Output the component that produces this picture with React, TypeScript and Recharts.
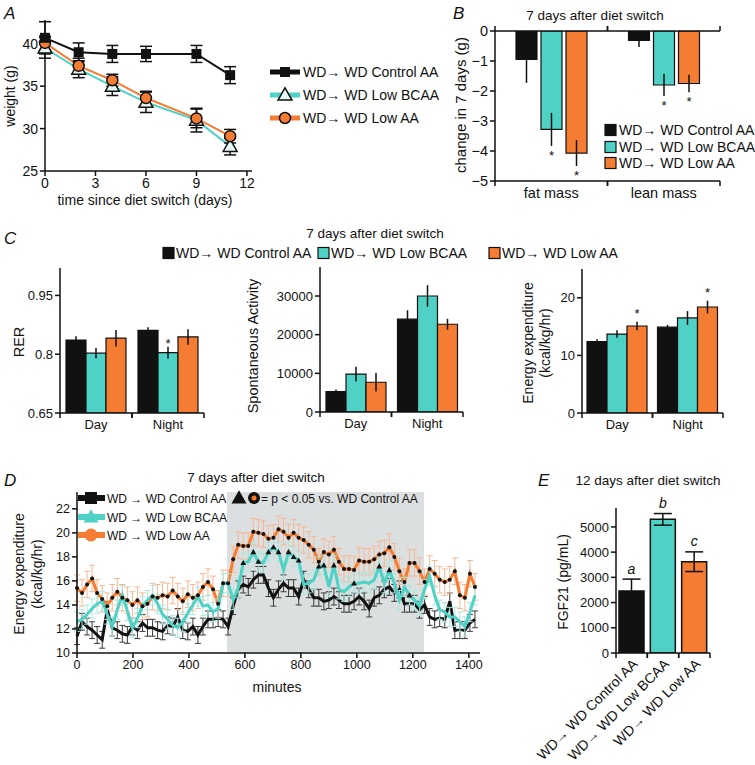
import React from "react";
import {
  Bar,
  BarChart,
  Cell,
  ErrorBar,
  LabelList,
  Line,
  LineChart,
  ReferenceArea,
  XAxis,
  YAxis,
} from "recharts";

const FONT = '"Liberation Sans", Arial, Helvetica, sans-serif';
const INK = "#111111";
const CTRL = "#111111";
const BCAA = "#4fd1c5";
const LOWAA = "#f47c33";

const groupNames = ["WD\u2192 WD Control AA", "WD\u2192 WD Low BCAA", "WD\u2192 WD Low AA"];
const groupNamesSpaced = ["WD \u2192 WD Control AA", "WD \u2192 WD Low BCAA", "WD \u2192 WD Low AA"];
const groupColors = [CTRL, BCAA, LOWAA];

// A: body weight
const weightDays = [0, 2, 4, 6, 9, 11];
const weightControl = [40.7, 39.0, 38.8, 38.8, 38.8, 36.3];
const weightLowBcaa = [39.5, 37.0, 35.0, 33.1, 31.0, 27.9];
const weightLowAA = [40.1, 37.4, 35.7, 33.6, 31.2, 29.1];
const weightControlErr = [1.9, 1.1, 1.0, 0.9, 1.0, 1.0];
const weightLowBcaaErr = [1.2, 1.0, 1.1, 1.2, 1.4, 1.0];
const weightLowAAErr = [0.8, 0.9, 0.7, 0.8, 1.1, 0.8];

// B: body composition change
const compCategories = ["fat mass", "lean mass"];
const compControl = [-0.95, -0.31];
const compLowBcaa = [-3.28, -1.8];
const compLowAA = [-4.07, -1.75];
const compControlErr = [0.78, 0.22];
const compLowBcaaErr = [0.55, 0.37];
const compLowAAErr = [0.43, 0.29];
const compLowBcaaSig = ["*", "*"];
const compLowAASig = ["*", "*"];

// C: metabolic chambers
const dayNight = ["Day", "Night"];
const rerControl = [0.836, 0.861];
const rerLowBcaa = [0.803, 0.804];
const rerLowAA = [0.841, 0.844];
const rerControlErr = [0.01, 0.008];
const rerLowBcaaErr = [0.013, 0.015];
const rerLowAAErr = [0.021, 0.02];
const rerLowBcaaSig = ["", "*"];

const actControl = [5300, 24000];
const actLowBcaa = [9800, 30000];
const actLowAA = [7700, 22700];
const actControlErr = [500, 2300];
const actLowBcaaErr = [1900, 2800];
const actLowAAErr = [2400, 1400];

const eeControl = [12.4, 14.9];
const eeLowBcaa = [13.7, 16.5];
const eeLowAA = [15.1, 18.4];
const eeControlErr = [0.4, 0.4];
const eeLowBcaaErr = [0.65, 1.2];
const eeLowAAErr = [0.75, 1.1];
const eeLowAASig = ["*", "*"];

// D: energy expenditure time course
const minutes = [
  0, 18, 36, 54, 72, 90, 108, 126, 144, 162, 180, 198, 216, 234, 252, 270, 288, 306, 324, 342,
  360, 378, 396, 414, 432, 450, 468, 486, 504, 522, 540, 558, 576, 594, 612, 630, 648, 666, 684, 702,
  720, 738, 756, 774, 792, 810, 828, 846, 864, 882, 900, 918, 936, 954, 972, 990, 1008, 1026, 1044, 1062,
  1080, 1098, 1116, 1134, 1152, 1170, 1188, 1206, 1224, 1242, 1260, 1278, 1296, 1314, 1332, 1350, 1368, 1386, 1404, 1422,
];
const traceControl = [
  11.4, 12.6, 12.2, 11.9, 11.5, 11.1, 13.6, 12.1, 11.9, 11.6, 11.5, 12.2, 11.9, 12.5, 12.1, 12.1, 11.9, 11.8, 12.3, 12.2,
  13.0, 11.9, 11.8, 12.2, 11.5, 12.2, 12.8, 12.8, 12.9, 12.8, 12.2, 13.9, 15.3, 15.7, 15.5, 16.1, 16.5, 16.5, 15.4, 14.6,
  15.3, 15.8, 15.4, 15.4, 14.7, 16.1, 15.3, 14.6, 14.6, 14.3, 14.4, 14.7, 14.4, 14.1, 14.1, 14.3, 14.7, 14.3, 13.7, 14.6,
  14.8, 15.3, 15.5, 15.0, 15.3, 14.1, 14.1, 14.1, 13.6, 14.0, 13.0, 12.8, 12.9, 12.8, 14.3, 11.9, 11.9, 11.9, 12.5, 12.8,
];
const traceLowBcaa = [
  12.6, 12.8, 13.2, 13.7, 14.1, 14.3, 13.2, 12.2, 13.6, 14.8, 13.5, 12.1, 12.9, 13.9, 14.4, 14.8, 14.1, 13.2, 12.8, 12.3,
  12.1, 12.6, 13.3, 14.0, 14.7, 13.9, 14.0, 13.4, 13.7, 15.8, 15.8, 14.4, 15.4, 17.5, 17.6, 18.4, 17.6, 17.5, 18.4, 18.8,
  18.4, 16.9, 18.4, 18.0, 17.7, 15.7, 15.8, 16.1, 17.2, 17.3, 15.5, 17.3, 15.3, 15.1, 15.5, 15.8, 15.8, 15.9, 15.8, 16.1,
  17.2, 15.8, 16.9, 15.8, 14.4, 15.5, 14.8, 14.4, 13.9, 15.3, 16.4, 14.8, 13.6, 13.4, 13.0, 13.0, 12.6, 12.2, 13.4, 14.8,
];
const traceLowAA = [
  15.4, 15.0, 15.7, 16.2, 15.0, 14.5, 13.9, 14.6, 15.1, 14.6, 14.4, 14.0, 14.4, 13.9, 14.1, 14.7, 14.6, 14.8, 14.7, 15.2,
  14.7, 14.3, 14.9, 14.6, 14.8, 15.5, 15.9, 15.3, 14.1, 15.8, 15.8, 17.8, 19.0, 18.9, 18.9, 20.1, 20.0, 19.9, 19.5, 19.6,
  20.3, 20.1, 19.6, 20.0, 19.6, 19.4, 19.0, 18.6, 17.6, 18.4, 18.2, 18.6, 17.6, 17.0, 17.0, 16.9, 17.7, 17.6, 17.6, 17.8,
  18.2, 18.3, 18.8, 18.0, 16.8, 15.9, 17.5, 17.5, 16.8, 15.9, 17.0, 16.6, 16.1, 15.9, 16.1, 16.8, 14.8, 14.6, 16.6, 15.5,
];
const traceControlErr = 0.7;
const traceLowBcaaErr = 0.8;
const traceLowAAErr = 1.1;
const lowBcaaSigIdx = [33, 35, 36, 38, 39, 40, 42, 43, 44, 48, 49, 51, 55, 60, 62, 66];
const darkStart = 536;
const darkEnd = 1240;
const minuteTicks = [0, 200, 400, 600, 800, 1000, 1200, 1400];

// E: FGF21
const fgfValues = [2460, 5300, 3620];
const fgfErr = [470, 230, 390];
const fgfLetters = ["a", "b", "c"];

const weightRows = weightDays.map((day, i) => ({
  day,
  control: weightControl[i],
  bcaa: weightLowBcaa[i],
  lowAA: weightLowAA[i],
  controlErr: weightControlErr[i],
  bcaaErr: weightLowBcaaErr[i],
  lowAAErr: weightLowAAErr[i],
}));

const groupRows = (
  names: string[],
  c: number[], b: number[], a: number[],
  ce: number[], be: number[], ae: number[],
) =>
  names.map((name, i) => ({
    name,
    control: c[i],
    bcaa: b[i],
    lowAA: a[i],
    controlErr: ce[i],
    bcaaErr: be[i],
    lowAAErr: ae[i],
  }));

const compRows = groupRows(compCategories, compControl, compLowBcaa, compLowAA, compControlErr, compLowBcaaErr, compLowAAErr);
const rerRows = groupRows(dayNight, rerControl, rerLowBcaa, rerLowAA, rerControlErr, rerLowBcaaErr, rerLowAAErr);
const actRows = groupRows(dayNight, actControl, actLowBcaa, actLowAA, actControlErr, actLowBcaaErr, actLowAAErr);
const eeRows = groupRows(dayNight, eeControl, eeLowBcaa, eeLowAA, eeControlErr, eeLowBcaaErr, eeLowAAErr);

const traceRows = minutes.map((minute, i) => ({
  minute,
  control: traceControl[i],
  bcaa: traceLowBcaa[i],
  lowAA: traceLowAA[i],
  controlErr: traceControlErr,
  bcaaErr: traceLowBcaaErr,
  lowAAErr: traceLowAAErr,
}));

const fgfRows = groupNames.map((name, i) => ({ name, value: fgfValues[i], err: fgfErr[i] }));

const tri = (cx: number, cy: number, s: number) =>
  `M${cx},${cy - s * 0.6} L${cx + s * 0.58},${cy + s * 0.42} L${cx - s * 0.58},${cy + s * 0.42} Z`;

const minus = (v: number) => (v < 0 ? `\u2212${Math.abs(v)}` : `${v}`);

// category axis tick: label at band centre, tick marks at band edges
function bandTick(bandWidth: number, side: "top" | "bottom", fontSize = 13) {
  return (props: any) => {
    const { x, y, payload, index } = props;
    const dir = side === "top" ? -1 : 1;
    const h = bandWidth / 2;
    return (
      <g key={`bt-${side}-${index}`}>
        <line x1={x - h} x2={x - h} y1={y} y2={y + dir * 5} stroke={INK} strokeWidth={1.5} />
        <line x1={x + h} x2={x + h} y1={y} y2={y + dir * 5} stroke={INK} strokeWidth={1.5} />
        {side === "bottom" && (
          <text x={x} y={y + 7} dy="0.71em" textAnchor="middle" fontSize={fontSize} fill={INK} fontFamily={FONT}>
            {payload.value}
          </text>
        )}
      </g>
    );
  };
}

function slantTick(bandWidth: number) {
  return (props: any) => {
    const { x, y, payload, index } = props;
    const h = bandWidth / 2;
    const ax = x + 7;
    const ay = y + 12;
    return (
      <g key={`st-${index}`}>
        <line x1={x - h} x2={x - h} y1={y} y2={y + 5} stroke={INK} strokeWidth={1.5} />
        <line x1={x + h} x2={x + h} y1={y} y2={y + 5} stroke={INK} strokeWidth={1.5} />
        <text x={ax} y={ay} textAnchor="end" fontSize={14} fill={INK} fontFamily={FONT} transform={`rotate(-45 ${ax} ${ay})`}>
          {payload.value}
        </text>
      </g>
    );
  };
}

// significance mark placed beyond the error bar of a bar
function markLabel(values: number[], errs: number[], marks: string[], gap: number, fontSize = 13, italic = false) {
  return (props: any) => {
    const i = props.index;
    const mark = marks[i];
    if (!mark) return null;
    const vb = props.viewBox ?? props;
    const v = values[i];
    const hgt = Math.abs(vb.height);
    const perUnit = hgt / Math.abs(v);
    const top = Math.min(vb.y, vb.y + vb.height);
    const bottom = Math.max(vb.y, vb.y + vb.height);
    const cx = vb.x + vb.width / 2;
    const y = v < 0 ? bottom + errs[i] * perUnit + gap : top - errs[i] * perUnit - gap;
    return (
      <text key={`mk-${i}`} x={cx} y={y} textAnchor="middle" fontSize={fontSize} fill={INK} fontFamily={FONT} fontStyle={italic ? "italic" : "normal"}>
        {mark}
      </text>
    );
  };
}

const axisProps = {
  stroke: INK,
  axisLine: { stroke: INK, strokeWidth: 1.5 },
  tickLine: { stroke: INK, strokeWidth: 1.5 },
};

interface GroupBarsProps {
  left: number;
  top: number;
  width: number;
  height: number;
  yWidth: number;
  marginTop: number;
  marginRight: number;
  rows: any[];
  domain: [number, number];
  ticks: number[];
  bandWidth: number;
  barSize: number;
  barGap: number;
  fontSize: number;
  bcaaVals: number[];
  bcaaErrs: number[];
  bcaaMarks?: string[];
  aaVals: number[];
  aaErrs: number[];
  aaMarks?: string[];
  markGap: number;
  topAxis?: boolean;
  fmt?: (v: number) => string;
}

function GroupBars(p: GroupBarsProps) {
  return (
    <div style={{ position: "absolute", left: p.left, top: p.top }}>
      <BarChart
        width={p.width}
        height={p.height}
        data={p.rows}
        margin={{ top: p.marginTop, right: p.marginRight, bottom: 0, left: 0 }}
        barSize={p.barSize}
        barGap={p.barGap}
      >
        <XAxis dataKey="name" height={25} tickSize={0} tickMargin={0} interval={0} tick={bandTick(p.bandWidth, "bottom", p.fontSize)} axisLine={{ stroke: INK, strokeWidth: 1.5 }} tickLine={false} />
        {p.topAxis && (
          <XAxis xAxisId="top" orientation="top" dataKey="name" height={3} tickSize={0} tickMargin={0} interval={0} tick={bandTick(p.bandWidth, "top")} axisLine={{ stroke: INK, strokeWidth: 1.5 }} tickLine={false} />
        )}
        <YAxis
          width={p.yWidth}
          domain={p.domain}
          ticks={p.ticks}
          allowDataOverflow
          tick={{ fill: INK, fontSize: p.fontSize, fontFamily: FONT }}
          tickFormatter={p.fmt}
          tickSize={5}
          {...axisProps}
        />
        <Bar dataKey="control" fill={CTRL} stroke={INK} strokeWidth={1.2} isAnimationActive={false}>
          <ErrorBar dataKey="controlErr" width={0} stroke={INK} strokeWidth={1.5} direction="y" isAnimationActive={false} />
        </Bar>
        <Bar dataKey="bcaa" fill={BCAA} stroke={INK} strokeWidth={1.2} isAnimationActive={false}>
          <ErrorBar dataKey="bcaaErr" width={0} stroke={INK} strokeWidth={1.5} direction="y" isAnimationActive={false} />
          {p.bcaaMarks && <LabelList dataKey="bcaa" content={markLabel(p.bcaaVals, p.bcaaErrs, p.bcaaMarks, p.markGap)} />}
        </Bar>
        <Bar dataKey="lowAA" fill={LOWAA} stroke={INK} strokeWidth={1.2} isAnimationActive={false}>
          <ErrorBar dataKey="lowAAErr" width={0} stroke={INK} strokeWidth={1.5} direction="y" isAnimationActive={false} />
          {p.aaMarks && <LabelList dataKey="lowAA" content={markLabel(p.aaVals, p.aaErrs, p.aaMarks, p.markGap)} />}
        </Bar>
      </BarChart>
    </div>
  );
}

function WeightChart() {
  return (
    <div style={{ position: "absolute", left: 0, top: 0 }}>
      <LineChart width={262} height={215} data={weightRows} margin={{ top: 20, right: 10, bottom: 19, left: 0 }}>
        <XAxis dataKey="day" type="number" domain={[0, 12.3]} ticks={[0, 3, 6, 9, 12]} height={25} tick={{ fill: INK, fontSize: 14, fontFamily: FONT }} tickSize={5} {...axisProps} />
        <YAxis width={45} domain={[25, 42.8]} ticks={[25, 30, 35, 40]} allowDataOverflow tick={{ fill: INK, fontSize: 14, fontFamily: FONT }} tickSize={5} {...axisProps} />
        <Line
          dataKey="bcaa"
          stroke={BCAA}
          strokeWidth={2}
          isAnimationActive={false}
          dot={(d: any) => <path key={`tb-${d.index}`} d={tri(d.cx, d.cy, 12)} fill="#e4f8f6" stroke={INK} strokeWidth={1.5} />}
        >
          <ErrorBar dataKey="bcaaErr" width={6} stroke={INK} strokeWidth={1.5} direction="y" isAnimationActive={false} />
        </Line>
        <Line
          dataKey="lowAA"
          stroke={LOWAA}
          strokeWidth={2}
          isAnimationActive={false}
          dot={(d: any) => <circle key={`ca-${d.index}`} cx={d.cx} cy={d.cy} r={5.5} fill={LOWAA} stroke={INK} strokeWidth={1.5} />}
        >
          <ErrorBar dataKey="lowAAErr" width={6} stroke={INK} strokeWidth={1.5} direction="y" isAnimationActive={false} />
        </Line>
        <Line
          dataKey="control"
          stroke={CTRL}
          strokeWidth={2}
          isAnimationActive={false}
          dot={(d: any) => <rect key={`sc-${d.index}`} x={d.cx - 5} y={d.cy - 5} width={10} height={10} fill={CTRL} />}
        >
          <ErrorBar dataKey="controlErr" width={6} stroke={INK} strokeWidth={1.5} direction="y" isAnimationActive={false} />
        </Line>
      </LineChart>
    </div>
  );
}

function TraceChart() {
  return (
    <div style={{ position: "absolute", left: 0, top: 482 }}>
      <LineChart width={490} height={196} data={traceRows} margin={{ top: 10, right: 10, bottom: 0, left: 0 }}>
        <ReferenceArea x1={darkStart} x2={darkEnd} fill="#dcdfdf" fillOpacity={1} stroke="none" />
        <XAxis dataKey="minute" type="number" domain={[0, 1440]} ticks={minuteTicks} height={25} tick={{ fill: INK, fontSize: 12.5, fontFamily: FONT }} tickSize={5} {...axisProps} />
        <YAxis width={77} domain={[10, 23.4]} ticks={[10, 12, 14, 16, 18, 20, 22]} allowDataOverflow tick={{ fill: INK, fontSize: 12.5, fontFamily: FONT }} tickSize={5} {...axisProps} />
        <Line dataKey="control" stroke={CTRL} strokeWidth={3} dot={false} isAnimationActive={false}>
          <ErrorBar dataKey="controlErr" width={3} stroke="#3a3a3a" strokeWidth={1} direction="y" isAnimationActive={false} />
        </Line>
        <Line
          dataKey="lowAA"
          stroke={LOWAA}
          strokeWidth={3}
          isAnimationActive={false}
          dot={(d: any) => <circle key={`od-${d.index}`} cx={d.cx} cy={d.cy} r={2} fill={INK} />}
        >
          <ErrorBar dataKey="lowAAErr" width={3} stroke="#f6b894" strokeWidth={1} direction="y" isAnimationActive={false} />
        </Line>
        <Line
          dataKey="bcaa"
          stroke={BCAA}
          strokeWidth={3}
          isAnimationActive={false}
          dot={(d: any) =>
            lowBcaaSigIdx.includes(d.index) ? (
              <path key={`td-${d.index}`} d={tri(d.cx, d.cy, 5)} fill={INK} />
            ) : (
              <g key={`td-${d.index}`} />
            )
          }
        >
          <ErrorBar dataKey="bcaaErr" width={3} stroke="#a9e8e1" strokeWidth={1} direction="y" isAnimationActive={false} />
        </Line>
      </LineChart>
    </div>
  );
}

function FgfChart() {
  return (
    <div style={{ position: "absolute", left: 500, top: 480 }}>
      <BarChart width={220} height={285} data={fgfRows} margin={{ top: 28, right: 10, bottom: 0, left: 0 }} barSize={25}>
        <XAxis dataKey="name" height={112} tickSize={0} tickMargin={0} interval={0} tick={slantTick(31.3)} axisLine={{ stroke: INK, strokeWidth: 1.5 }} tickLine={false} />
        <YAxis width={116} domain={[0, 5750]} ticks={[0, 1000, 2000, 3000, 4000, 5000]} allowDataOverflow tick={{ fill: INK, fontSize: 13, fontFamily: FONT }} tickSize={5} {...axisProps} />
        <Bar dataKey="value" stroke={INK} strokeWidth={1.5} isAnimationActive={false}>
          {fgfRows.map((r, i) => (
            <Cell key={r.name} fill={groupColors[i]} />
          ))}
          <ErrorBar dataKey="err" width={9} stroke={INK} strokeWidth={1.5} direction="y" isAnimationActive={false} />
          <LabelList dataKey="value" content={markLabel(fgfValues, fgfErr, fgfLetters, 5.5, 14, true)} />
        </Bar>
      </BarChart>
    </div>
  );
}

function Overlay() {
  const t = { fill: INK, fontFamily: FONT } as const;
  const legendRowsA = [72, 95, 118];
  const legendRowsB = [130, 147, 163];
  const legendRowsD = [498, 517, 535];
  const legendC = [
    { box: 163, text: 176 },
    { box: 318, text: 331 },
    { box: 489, text: 502 },
  ];
  const marker = (i: number, cx: number, cy: number, big: boolean) => {
    if (i === 0) {
      const s = big ? 12 : 10;
      return <rect x={cx - s / 2} y={cy - s / 2} width={s} height={s} fill={CTRL} />;
    }
    if (i === 1) {
      return big ? (
        <path d={tri(cx, cy, 13)} fill={BCAA} />
      ) : (
        <path d={tri(cx, cy, 12)} fill="#e4f8f6" stroke={INK} strokeWidth={1.5} />
      );
    }
    return big ? (
      <circle cx={cx} cy={cy} r={6.5} fill={LOWAA} />
    ) : (
      <circle cx={cx} cy={cy} r={5.5} fill={LOWAA} stroke={INK} strokeWidth={1.5} />
    );
  };
  return (
    <svg width={755} height={765} style={{ position: "absolute", left: 0, top: 0, pointerEvents: "none" }}>
      {/* panel letters */}
      <text x={4} y={19} fontSize={17} fontStyle="italic" {...t}>A</text>
      <text x={453} y={19} fontSize={17} fontStyle="italic" {...t}>B</text>
      <text x={4} y={244} fontSize={17} fontStyle="italic" {...t}>C</text>
      <text x={4} y={486} fontSize={17} fontStyle="italic" {...t}>D</text>
      <text x={538} y={486} fontSize={17} fontStyle="italic" {...t}>E</text>

      {/* titles */}
      <text x={595} y={20} fontSize={13.5} textAnchor="middle" {...t}>7 days after diet switch</text>
      <text x={375} y={238} fontSize={13.5} textAnchor="middle" {...t}>7 days after diet switch</text>
      <text x={256} y={482} fontSize={13.5} textAnchor="middle" {...t}>7 days after diet switch</text>
      <text x={648} y={485} fontSize={13.5} textAnchor="middle" {...t}>12 days after diet switch</text>

      {/* axis titles */}
      <text x={15} y={96} fontSize={14} textAnchor="middle" transform="rotate(-90 15 96)" {...t}>weight (g)</text>
      <text x={145} y={205} fontSize={14} textAnchor="middle" {...t}>time since diet switch (days)</text>
      <text x={466} y={105} fontSize={15} textAnchor="middle" transform="rotate(-90 466 105)" {...t}>change in 7 days (g)</text>
      <text x={24} y={342} fontSize={14.5} textAnchor="middle" transform="rotate(-90 24 342)" {...t}>RER</text>
      <text x={258} y={346} fontSize={14.5} textAnchor="middle" transform="rotate(-90 258 346)" {...t}>Spontaneous Activity</text>
      <text x={533} y={343} fontSize={14} textAnchor="middle" transform="rotate(-90 533 343)" {...t}>Energy expenditure</text>
      <text x={550} y={343} fontSize={14} textAnchor="middle" transform="rotate(-90 550 343)" {...t}>(kcal/kg/hr)</text>
      <text x={24} y={574} fontSize={14} textAnchor="middle" transform="rotate(-90 24 574)" {...t}>Energy expenditure</text>
      <text x={42} y={574} fontSize={14} textAnchor="middle" transform="rotate(-90 42 574)" {...t}>(kcal/kg/hr)</text>
      <text x={277} y={692} fontSize={14} textAnchor="middle" {...t}>minutes</text>
      <text x={568} y={582} fontSize={14} textAnchor="middle" transform="rotate(-90 568 582)" {...t}>FGF21 (pg/mL)</text>

      {/* A legend */}
      {legendRowsA.map((y, i) => (
        <g key={`la-${i}`}>
          <line x1={270} x2={300} y1={y} y2={y} stroke={groupColors[i]} strokeWidth={5} />
          {marker(i, 285, y, false)}
          <text x={303} y={y + 5} fontSize={14} {...t}>{groupNames[i]}</text>
        </g>
      ))}

      {/* B legend */}
      {legendRowsB.map((y, i) => (
        <g key={`lb-${i}`}>
          <rect x={605} y={y - 5.5} width={11} height={11} fill={groupColors[i]} stroke={INK} strokeWidth={1.2} />
          <text x={619} y={y + 5} fontSize={14} {...t}>{groupNames[i]}</text>
        </g>
      ))}

      {/* C legend */}
      {legendC.map((p, i) => (
        <g key={`lc-${i}`}>
          <rect x={p.box} y={247.5} width={11} height={11} fill={groupColors[i]} stroke={INK} strokeWidth={1.2} />
          <text x={p.text} y={258} fontSize={14} {...t}>{groupNames[i]}</text>
        </g>
      ))}

      {/* D legend */}
      {legendRowsD.map((y, i) => (
        <g key={`ld-${i}`}>
          <line x1={78} x2={105} y1={y} y2={y} stroke={groupColors[i]} strokeWidth={6} />
          {marker(i, 91, y, true)}
          <text x={107} y={y + 4.5} fontSize={12} {...t}>{groupNamesSpaced[i]}</text>
        </g>
      ))}
      <path d={tri(239, 498, 13)} fill={INK} />
      <circle cx={254} cy={498} r={6} fill={INK} />
      <circle cx={254} cy={498} r={2.5} fill={LOWAA} />
      <text x={261} y={502.5} fontSize={12} {...t}>= p &lt; 0.05 vs. WD Control AA</text>
    </svg>
  );
}

export default function App() {
  return (
    <div style={{ position: "absolute", left: 0, top: 0, width: 755, height: 765, background: "#fff", fontFamily: FONT, overflow: "hidden" }}>
      <WeightChart />
      <GroupBars
        left={470} top={20} width={260} height={186} yWidth={25} marginTop={8} marginRight={10}
        rows={compRows} domain={[-5, 0]} ticks={[-5, -4, -3, -2, -1, 0]} bandWidth={112.5}
        barSize={21} barGap={4} fontSize={14.5} fmt={minus} topAxis
        bcaaVals={compLowBcaa} bcaaErrs={compLowBcaaErr} bcaaMarks={compLowBcaaSig}
        aaVals={compLowAA} aaErrs={compLowAAErr} aaMarks={compLowAASig} markGap={14}
      />
      <GroupBars
        left={0} top={258} width={215} height={180} yWidth={60} marginTop={10} marginRight={11}
        rows={rerRows} domain={[0.65, 1.02]} ticks={[0.65, 0.8, 0.95]} bandWidth={72}
        barSize={20} barGap={0} fontSize={13}
        bcaaVals={rerLowBcaa} bcaaErrs={rerLowBcaaErr} bcaaMarks={rerLowBcaaSig}
        aaVals={rerLowAA} aaErrs={rerLowAAErr} markGap={3.5}
      />
      <GroupBars
        left={250} top={257} width={223} height={180} yWidth={70} marginTop={10} marginRight={10}
        rows={actRows} domain={[0, 37500]} ticks={[0, 10000, 20000, 30000]} bandWidth={71.5}
        barSize={20} barGap={0} fontSize={13}
        bcaaVals={actLowBcaa} bcaaErrs={actLowBcaaErr}
        aaVals={actLowAA} aaErrs={actLowAAErr} markGap={3.5}
      />
      <GroupBars
        left={520} top={259} width={214} height={179} yWidth={62} marginTop={10} marginRight={11}
        rows={eeRows} domain={[0, 25]} ticks={[0, 10, 20]} bandWidth={70.5}
        barSize={20} barGap={0} fontSize={13}
        bcaaVals={eeLowBcaa} bcaaErrs={eeLowBcaaErr}
        aaVals={eeLowAA} aaErrs={eeLowAAErr} aaMarks={eeLowAASig} markGap={3.5}
      />
      <TraceChart />
      <FgfChart />
      <Overlay />
    </div>
  );
}
